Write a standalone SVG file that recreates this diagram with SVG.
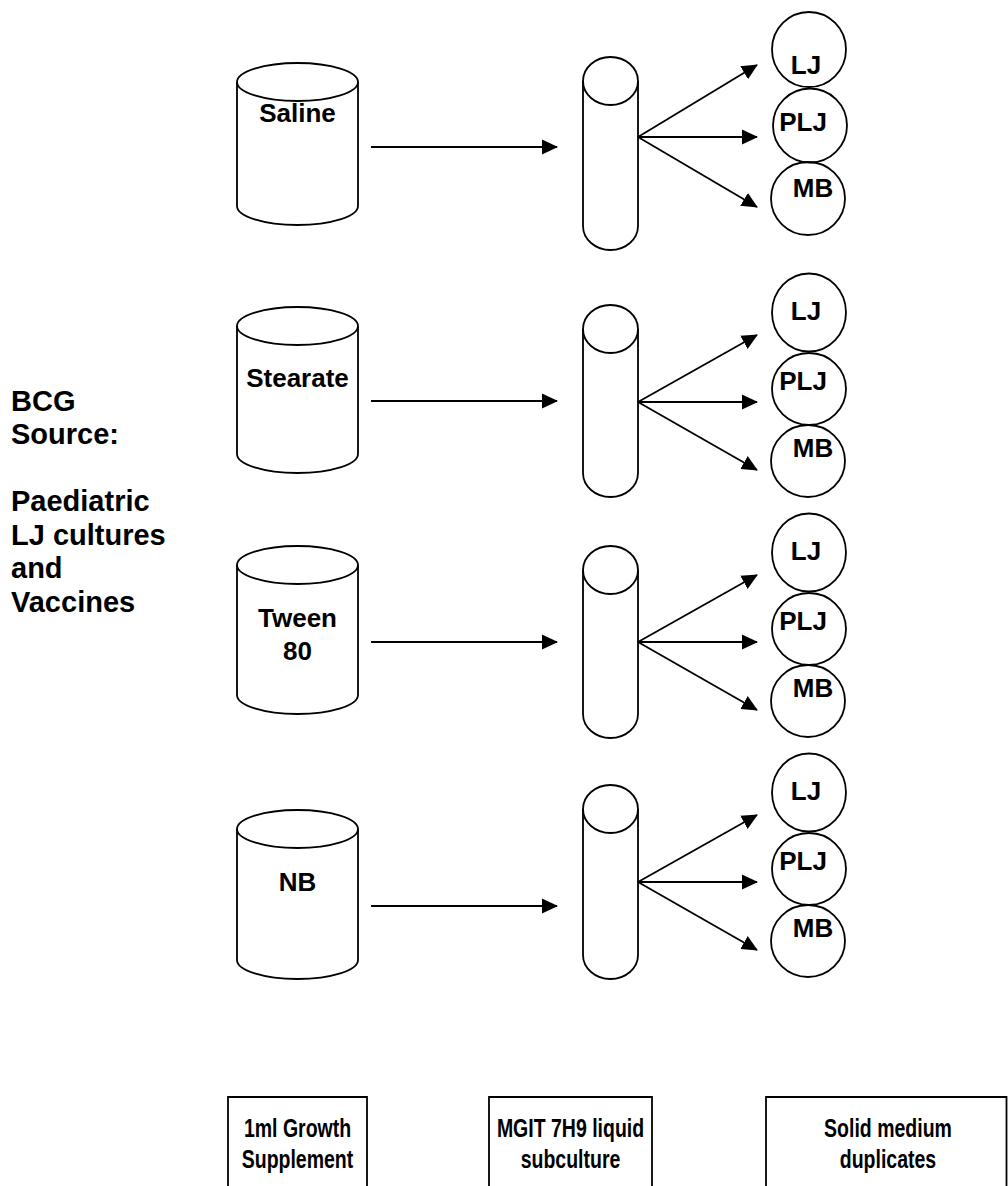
<svg xmlns="http://www.w3.org/2000/svg" width="1008" height="1186" viewBox="0 0 1008 1186">
  <style>
    .shape { fill: none; stroke: #000; stroke-width: 1.8; }
    .link { fill: none; stroke: #000; stroke-width: 1.8; }
    .lbl { font-family: "Liberation Sans", Arial, sans-serif; font-weight: bold; font-size: 26px; fill: #000; text-anchor: middle; }
    .side { font-family: "Liberation Sans", Arial, sans-serif; font-weight: bold; font-size: 29px; fill: #000; }
    .cap { font-family: "Liberation Sans", Arial, sans-serif; font-weight: bold; font-size: 25px; fill: #000; text-anchor: middle; }
  </style>
  <defs>
    <marker id="head" markerUnits="userSpaceOnUse" markerWidth="16" markerHeight="16" viewBox="0 0 16 16" refX="15" refY="8" orient="auto">
      <path d="M0,0.5 L16,8 L0,15.5 Z" fill="#000"/>
    </marker>
  </defs>
  <rect width="1008" height="1186" fill="#fff"/>

  <!-- source description -->
  <g id="bcg-source">
    <text class="side" x="11" y="411">BCG</text>
    <text class="side" x="11" y="444">Source:</text>
    <text class="side" x="11" y="511">Paediatric</text>
    <text class="side" x="11" y="545">LJ cultures</text>
    <text class="side" x="11" y="578">and</text>
    <text class="side" x="11" y="612">Vaccines</text>
  </g>

  <!-- growth supplement drums -->
  <g id="saline">
    <path class="shape" d="M237,82 L237,206 A60.5,19 0 0 0 358,206 L358,82"/>
    <ellipse class="shape" cx="297.5" cy="82" rx="60.5" ry="19"/>
    <text class="lbl" x="297.5" y="122">Saline</text>
  </g>
  <g id="stearate">
    <path class="shape" d="M237,326 L237,454 A60.5,19 0 0 0 358,454 L358,326"/>
    <ellipse class="shape" cx="297.5" cy="326" rx="60.5" ry="19"/>
    <text class="lbl" x="297.5" y="387">Stearate</text>
  </g>
  <g id="tween80">
    <path class="shape" d="M237,565 L237,695 A60.5,19 0 0 0 358,695 L358,565"/>
    <ellipse class="shape" cx="297.5" cy="565" rx="60.5" ry="19"/>
    <text class="lbl" x="297.5" y="627">Tween</text>
    <text class="lbl" x="297.5" y="660">80</text>
  </g>
  <g id="nb">
    <path class="shape" d="M237,829 L237,960 A60.5,19 0 0 0 358,960 L358,829"/>
    <ellipse class="shape" cx="297.5" cy="829" rx="60.5" ry="19"/>
    <text class="lbl" x="297.5" y="891">NB</text>
  </g>

  <!-- MGIT tubes -->
  <g id="tube-1">
    <path class="shape" d="M583,81 L583,226 A27.5,24 0 0 0 638,226 L638,81"/>
    <ellipse class="shape" cx="610.5" cy="81" rx="27.5" ry="24"/>
  </g>
  <g id="tube-2">
    <path class="shape" d="M583,329 L583,473 A27.5,24 0 0 0 638,473 L638,329"/>
    <ellipse class="shape" cx="610.5" cy="329" rx="27.5" ry="24"/>
  </g>
  <g id="tube-3">
    <path class="shape" d="M583,570 L583,714 A27.5,24 0 0 0 638,714 L638,570"/>
    <ellipse class="shape" cx="610.5" cy="570" rx="27.5" ry="24"/>
  </g>
  <g id="tube-4">
    <path class="shape" d="M583,809 L583,955 A27.5,24 0 0 0 638,955 L638,809"/>
    <ellipse class="shape" cx="610.5" cy="809" rx="27.5" ry="24"/>
  </g>

  <!-- solid media plates, row 1 -->
  <g id="lj-1"><ellipse class="shape" cx="809" cy="49.5" rx="37" ry="37.5"/><text class="lbl" x="806" y="74">LJ</text></g>
  <g id="plj-1"><ellipse class="shape" cx="810" cy="125.5" rx="37" ry="37"/><text class="lbl" x="803" y="131">PLJ</text></g>
  <g id="mb-1"><ellipse class="shape" cx="808" cy="198.5" rx="37" ry="36.5"/><text class="lbl" x="813" y="197">MB</text></g>
  <!-- row 2 -->
  <g id="lj-2"><ellipse class="shape" cx="809" cy="312.5" rx="37" ry="39"/><text class="lbl" x="806" y="320">LJ</text></g>
  <g id="plj-2"><ellipse class="shape" cx="809" cy="389" rx="37" ry="36"/><text class="lbl" x="803" y="390">PLJ</text></g>
  <g id="mb-2"><ellipse class="shape" cx="808" cy="461" rx="37" ry="36"/><text class="lbl" x="813" y="457">MB</text></g>
  <!-- row 3 -->
  <g id="lj-3"><ellipse class="shape" cx="809" cy="552.5" rx="37" ry="39"/><text class="lbl" x="806" y="560">LJ</text></g>
  <g id="plj-3"><ellipse class="shape" cx="809" cy="629" rx="37" ry="36"/><text class="lbl" x="803" y="630">PLJ</text></g>
  <g id="mb-3"><ellipse class="shape" cx="808" cy="701" rx="37" ry="36"/><text class="lbl" x="813" y="697">MB</text></g>
  <!-- row 4 -->
  <g id="lj-4"><ellipse class="shape" cx="809" cy="792.5" rx="37" ry="39"/><text class="lbl" x="806" y="800">LJ</text></g>
  <g id="plj-4"><ellipse class="shape" cx="809" cy="869" rx="37" ry="36"/><text class="lbl" x="803" y="870">PLJ</text></g>
  <g id="mb-4"><ellipse class="shape" cx="808" cy="941" rx="37" ry="36"/><text class="lbl" x="813" y="937">MB</text></g>

  <!-- column captions (narrow bold lettering) -->
  <g id="caption-supplement">
    <path class="shape" d="M228,1190 L228,1097 L367,1097 L367,1190"/>
    <text class="cap" transform="translate(297.5,1137) scale(0.78,1)">1ml Growth</text>
    <text class="cap" transform="translate(297.5,1168) scale(0.78,1)">Supplement</text>
  </g>
  <g id="caption-mgit">
    <path class="shape" d="M489,1190 L489,1097 L652,1097 L652,1190"/>
    <text class="cap" transform="translate(570.5,1137) scale(0.78,1)">MGIT 7H9 liquid</text>
    <text class="cap" transform="translate(570.5,1168) scale(0.78,1)">subculture</text>
  </g>
  <g id="caption-solid">
    <path class="shape" d="M766,1190 L766,1097 L1006.5,1097 L1006.5,1190"/>
    <text class="cap" transform="translate(888,1137) scale(0.78,1)">Solid medium</text>
    <text class="cap" transform="translate(888,1168) scale(0.78,1)">duplicates</text>
  </g>

  <!-- connectors -->
  <g id="connectors">
    <line class="link" x1="371" y1="147" x2="557" y2="147" marker-end="url(#head)"/>
    <line class="link" x1="371" y1="401" x2="557" y2="401" marker-end="url(#head)"/>
    <line class="link" x1="371" y1="642" x2="557" y2="642" marker-end="url(#head)"/>
    <line class="link" x1="371" y1="906" x2="557" y2="906" marker-end="url(#head)"/>

    <line class="link" x1="638" y1="137" x2="757" y2="65" marker-end="url(#head)"/>
    <line class="link" x1="638" y1="137" x2="757" y2="137" marker-end="url(#head)"/>
    <line class="link" x1="638" y1="137" x2="757" y2="207" marker-end="url(#head)"/>

    <line class="link" x1="638" y1="402" x2="757" y2="335" marker-end="url(#head)"/>
    <line class="link" x1="638" y1="402" x2="757" y2="402" marker-end="url(#head)"/>
    <line class="link" x1="638" y1="402" x2="757" y2="470" marker-end="url(#head)"/>

    <line class="link" x1="638" y1="642" x2="757" y2="575" marker-end="url(#head)"/>
    <line class="link" x1="638" y1="642" x2="757" y2="642" marker-end="url(#head)"/>
    <line class="link" x1="638" y1="642" x2="757" y2="710" marker-end="url(#head)"/>

    <line class="link" x1="638" y1="882" x2="757" y2="815" marker-end="url(#head)"/>
    <line class="link" x1="638" y1="882" x2="757" y2="882" marker-end="url(#head)"/>
    <line class="link" x1="638" y1="882" x2="757" y2="950" marker-end="url(#head)"/>
  </g>
</svg>
